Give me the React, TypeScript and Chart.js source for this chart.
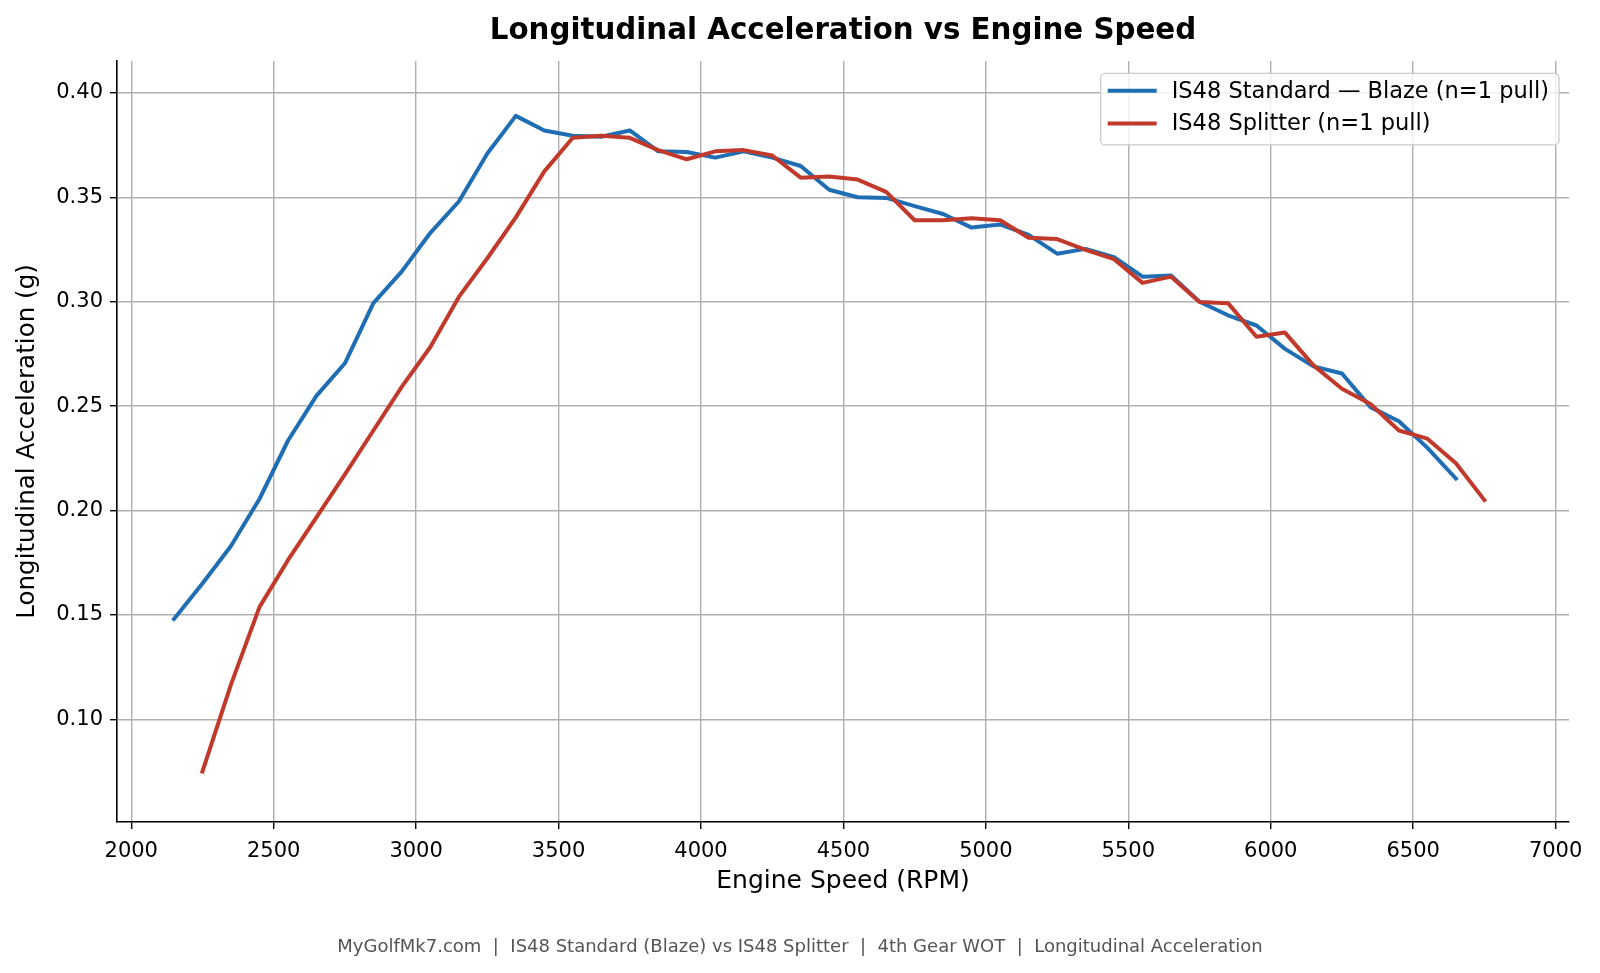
import React, { useEffect, useRef } from "react";
import { Chart, registerables } from "chart.js";

Chart.register(...registerables);

const rpmBlaze = [
  2150, 2250, 2350, 2450, 2550, 2650, 2750, 2850, 2950, 3050, 3150, 3250, 3350, 3450, 3550, 3650,
  3750, 3850, 3950, 4050, 4150, 4250, 4350, 4450, 4550, 4650, 4750, 4850, 4950, 5050, 5150, 5250,
  5350, 5450, 5550, 5650, 5750, 5850, 5950, 6050, 6150, 6250, 6350, 6450, 6550, 6650,
];
const accelBlaze = [
  0.148, 0.165, 0.183, 0.2055, 0.2334, 0.2549, 0.2705, 0.2993, 0.3145, 0.333, 0.348, 0.371, 0.389,
  0.382, 0.3795, 0.379, 0.382, 0.372, 0.3717, 0.369, 0.372, 0.369, 0.365, 0.3536, 0.35, 0.3497,
  0.3458, 0.342, 0.3355, 0.337, 0.332, 0.323, 0.3253, 0.3213, 0.312, 0.3125, 0.3, 0.2935, 0.2886,
  0.2774, 0.269, 0.2656, 0.2495, 0.2427, 0.23, 0.2153,
];
const rpmSplitter = [
  2250, 2350, 2450, 2550, 2650, 2750, 2850, 2950, 3050, 3150, 3250, 3350, 3450, 3550, 3650, 3750,
  3850, 3950, 4050, 4150, 4250, 4350, 4450, 4550, 4650, 4750, 4850, 4950, 5050, 5150, 5250, 5350,
  5450, 5550, 5650, 5750, 5850, 5950, 6050, 6150, 6250, 6350, 6450, 6550, 6650, 6750,
];
const accelSplitter = [
  0.075, 0.1166, 0.1537, 0.1762, 0.1967, 0.2173, 0.2383, 0.2593, 0.2783, 0.3023, 0.3208, 0.3404,
  0.3624, 0.3785, 0.3795, 0.3785, 0.3726, 0.3682, 0.372, 0.3726, 0.37, 0.3594, 0.36, 0.3585, 0.3526,
  0.339, 0.339, 0.34, 0.339, 0.3306, 0.33, 0.3248, 0.3204, 0.309, 0.312, 0.2998, 0.2993, 0.2832,
  0.2852, 0.2695, 0.2583, 0.251, 0.2383, 0.2344, 0.2226, 0.205,
];
const xTicks = [2000, 2500, 3000, 3500, 4000, 4500, 5000, 5500, 6000, 6500, 7000];
const yTicks = [0.1, 0.15, 0.2, 0.25, 0.3, 0.35, 0.4];

const seriesLabels = ["IS48 Standard \u2014 Blaze (n=1 pull)", "IS48 Splitter (n=1 pull)"];
const seriesColors = ["#1f6eb4", "#c0392b"];

const FONT = "'DejaVu Sans', 'Noto Sans', sans-serif";
const LINE_W = 4;

const boxLegend = {
  id: "boxLegend",
  afterDatasetsDraw(chart: any) {
    const { ctx, chartArea } = chart;
    const fontSize = 22.5;
    ctx.save();
    ctx.font = `${fontSize}px ${FONT}`;
    const labels: string[] = chart.data.datasets.map((d: any) => d.label);
    const colors: string[] = chart.data.datasets.map((d: any) => d.borderColor);
    const textW = Math.max(...labels.map((l) => ctx.measureText(l).width));
    const padL = 7;
    const lineLen = 49;
    const gap = 15;
    const padR = 10;
    const w = padL + lineLen + gap + textW + padR;
    const h = 71.5;
    const x = chartArea.right - 10 - w;
    const y = chartArea.top + 12.5;
    const r = 4.5;
    ctx.beginPath();
    ctx.moveTo(x + r, y);
    ctx.lineTo(x + w - r, y);
    ctx.arcTo(x + w, y, x + w, y + r, r);
    ctx.lineTo(x + w, y + h - r);
    ctx.arcTo(x + w, y + h, x + w - r, y + h, r);
    ctx.lineTo(x + r, y + h);
    ctx.arcTo(x, y + h, x, y + h - r, r);
    ctx.lineTo(x, y + r);
    ctx.arcTo(x, y, x + r, y, r);
    ctx.closePath();
    ctx.fillStyle = "rgba(255,255,255,0.8)";
    ctx.fill();
    ctx.strokeStyle = "#cccccc";
    ctx.lineWidth = 1.3;
    ctx.stroke();
    labels.forEach((label, i) => {
      const cy = y + 17.3 + i * 32.7;
      ctx.beginPath();
      ctx.moveTo(x + padL, cy);
      ctx.lineTo(x + padL + lineLen, cy);
      ctx.strokeStyle = colors[i];
      ctx.lineWidth = LINE_W;
      ctx.lineCap = "butt";
      ctx.stroke();
      ctx.fillStyle = "#000";
      ctx.textAlign = "left";
      ctx.textBaseline = "middle";
      ctx.fillText(label, x + padL + lineLen + gap, cy + 1);
    });
    ctx.restore();
  },
};

export default function App() {
  const canvasRef = useRef<HTMLCanvasElement | null>(null);

  useEffect(() => {
    document.body.style.margin = "0";
    const canvas = canvasRef.current;
    if (!canvas) return;

    const blazeData = rpmBlaze.map((x, i) => ({ x, y: accelBlaze[i] }));
    const splitterData = rpmSplitter.map((x, i) => ({ x, y: accelSplitter[i] }));

    const chart = new Chart(canvas, {
      type: "line",
      data: {
        datasets: [
          {
            label: seriesLabels[0],
            data: blazeData,
            borderColor: seriesColors[0],
            backgroundColor: seriesColors[0],
            borderWidth: LINE_W,
            pointRadius: 0,
            tension: 0,
            borderJoinStyle: "round",
            borderCapStyle: "square",
            order: 1,
          },
          {
            label: seriesLabels[1],
            data: splitterData,
            borderColor: seriesColors[1],
            backgroundColor: seriesColors[1],
            borderWidth: LINE_W,
            pointRadius: 0,
            tension: 0,
            borderJoinStyle: "round",
            borderCapStyle: "square",
            order: 0,
          },
        ],
      },
      options: {
        responsive: false,
        animation: false,
        devicePixelRatio: 1,
        layout: { padding: 0 },
        plugins: {
          legend: { display: false },
          tooltip: { enabled: false },
          title: {
            display: true,
            fullSize: false,
            text: "Longitudinal Acceleration vs Engine Speed",
            color: "#000",
            font: { family: FONT, size: 29.3, weight: "bold", lineHeight: 1.2 },
            padding: { top: 14, bottom: 11.8 },
          },
          subtitle: {
            display: true,
            position: "bottom",
            text: "MyGolfMk7.com  |  IS48 Standard (Blaze) vs IS48 Splitter  |  4th Gear WOT  |  Longitudinal Acceleration",
            color: "#555555",
            font: { family: FONT, size: 18, lineHeight: 1.2 },
            padding: { top: 31.4, bottom: 15 },
          },
        },
        scales: {
          x: {
            type: "linear",
            min: 1950,
            max: 7047,
            afterBuildTicks: (scale: any) => {
              scale.ticks = xTicks.map((v) => ({ value: v }));
            },
            afterFit: (scale: any) => {
              scale.height = 83;
            },
            ticks: {
              color: "#000",
              font: { family: FONT, size: 21 },
              padding: 10.4,
              maxRotation: 0,
              autoSkip: false,
              callback: (v: any) => String(v),
            },
            grid: {
              color: "#b0b0b0",
              lineWidth: 1.4,
              drawTicks: true,
              tickLength: 7,
              tickColor: "#000",
              tickWidth: 1.4,
            },
            border: { display: true, color: "#000", width: 1.6 },
            title: {
              display: true,
              text: "Engine Speed (RPM)",
              color: "#000",
              font: { family: FONT, size: 25, lineHeight: 1.2 },
              padding: { top: 0, bottom: 8.4 },
            },
          },
          y: {
            type: "linear",
            min: 0.0508,
            max: 0.4153,
            afterBuildTicks: (scale: any) => {
              scale.ticks = yTicks.map((v) => ({ value: v }));
            },
            afterFit: (scale: any) => {
              scale.width = 117;
            },
            ticks: {
              color: "#000",
              font: { family: FONT, size: 21 },
              padding: 7,
              autoSkip: false,
              callback: (v: any) => Number(v).toFixed(2),
            },
            grid: {
              color: "#b0b0b0",
              lineWidth: 1.4,
              drawTicks: true,
              tickLength: 7,
              tickColor: "#000",
              tickWidth: 1.4,
            },
            border: { display: true, color: "#000", width: 1.6 },
            title: {
              display: true,
              text: "Longitudinal Acceleration (g)",
              color: "#000",
              font: { family: FONT, size: 24.6, lineHeight: 1.2 },
              padding: { top: 13, bottom: 0 },
            },
          },
          rightSpace: {
            type: "linear",
            position: "right",
            display: true,
            afterFit: (scale: any) => {
              scale.width = 31;
            },
            ticks: { display: false },
            grid: { display: false, drawTicks: false },
            border: { display: false },
            title: { display: false },
          },
        },
      },
      plugins: [boxLegend],
    } as any);

    return () => {
      chart.destroy();
    };
  }, []);

  return (
    <div style={{ width: 1600, height: 973, background: "#fff" }}>
      <canvas ref={canvasRef} width={1600} height={973} style={{ display: "block" }} />
    </div>
  );
}
